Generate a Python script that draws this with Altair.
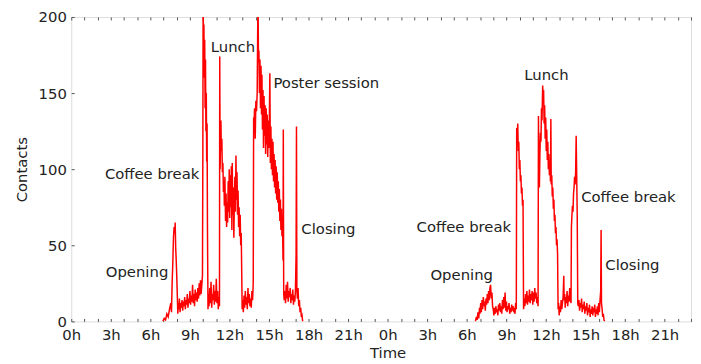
import altair as alt
import pandas as pd

# ---- Day 1 (hours since start of day 1) ----
t1 = [6.95, 7.05, 7.15, 7.25, 7.35, 7.45, 7.55, 7.6, 7.65, 7.7, 7.75, 7.8, 7.85, 7.88, 7.92, 7.96,
      8.0, 8.04, 8.08, 8.12, 8.16, 8.2, 8.25, 8.3, 8.35, 8.4, 8.45, 8.5, 8.55, 8.6, 8.65, 8.7, 8.75,
      8.8, 8.85, 8.9, 8.95, 9.0, 9.05, 9.1, 9.15, 9.2, 9.25, 9.3, 9.35, 9.4, 9.45, 9.5, 9.55, 9.6,
      9.65, 9.7, 9.75, 9.8, 9.85, 9.9, 9.95, 9.98, 10.0, 10.03, 10.06, 10.09, 10.12, 10.15, 10.18,
      10.21, 10.24, 10.27, 10.3, 10.33, 10.37, 10.4, 10.45, 10.5, 10.55, 10.6, 10.65, 10.7, 10.75,
      10.8, 10.85, 10.9, 10.95, 11.0, 11.05, 11.1, 11.15, 11.2, 11.24, 11.26, 11.29, 11.32, 11.35,
      11.38, 11.42, 11.46, 11.5, 11.54, 11.58, 11.61, 11.65, 11.7, 11.74, 11.78, 11.82, 11.86, 11.9,
      11.94, 11.98, 12.02, 12.06, 12.1, 12.14, 12.18, 12.21, 12.25, 12.29, 12.33, 12.37, 12.41,
      12.45, 12.49, 12.53, 12.57, 12.61, 12.65, 12.69, 12.73, 12.77, 12.81, 12.85, 12.89, 12.93,
      12.96, 13.0, 13.05, 13.1, 13.15, 13.2, 13.25, 13.3, 13.35, 13.4, 13.45, 13.5, 13.55, 13.6,
      13.65, 13.7, 13.75, 13.8, 13.83, 13.86, 13.9, 13.95, 14.0, 14.05, 14.1, 14.16, 14.2, 14.23,
      14.27, 14.31, 14.35, 14.39, 14.43, 14.46, 14.5, 14.54, 14.58, 14.62, 14.66, 14.7, 14.74,
      14.78, 14.82, 14.86, 14.9, 14.94, 14.98, 15.02, 15.06, 15.1, 15.14, 15.18, 15.22, 15.26,
      15.3, 15.34, 15.38, 15.42, 15.46, 15.5, 15.54, 15.58, 15.62, 15.66, 15.7, 15.74, 15.78,
      15.82, 15.86, 15.9, 15.94, 15.98, 16.02, 16.06, 16.08, 16.11, 16.15, 16.2, 16.25, 16.3,
      16.35, 16.4, 16.45, 16.5, 16.55, 16.6, 16.65, 16.7, 16.75, 16.8, 16.85, 16.9, 16.95, 17.0,
      17.05, 17.08, 17.11, 17.15, 17.2, 17.25, 17.3, 17.35, 17.4, 17.45, 17.5, 17.55]
v1 = [0, 2, 1, 5, 3, 8, 12, 6, 25, 38, 55, 62, 58, 65, 48, 40,
      30, 18, 5, 12, 8, 15, 6, 12, 9, 14, 7, 13, 10, 16, 8, 14, 11,
      18, 9, 15, 12, 20, 11, 17, 13, 24, 12, 18, 10, 21, 14, 19, 13, 22,
      15, 25, 17, 27, 18, 24, 30, 110, 215, 180, 195, 160, 185, 140, 172,
      125, 150, 105, 130, 60, 8, 18, 10, 22, 12, 26, 9, 18, 14,
      24, 11, 20, 13, 28, 12, 20, 8, 16, 10, 174, 100, 118, 132,
      112, 120, 98, 104, 85, 92, 76, 95, 66, 84, 62, 78, 65, 92,
      72, 100, 68, 96, 75, 102, 60, 104, 70, 88, 55, 80, 95,
      72, 109, 80, 98, 70, 86, 62, 75, 56, 70, 50, 58, 30,
      8, 14, 6, 17, 9, 20, 11, 16, 8, 22, 12, 18, 10, 15,
      9, 20, 14, 25, 134, 128, 140, 120, 145, 138, 150, 215, 170, 178,
      150, 172, 140, 168, 136, 162, 126, 152, 114, 148, 122, 142, 110,
      140, 116, 136, 108, 132, 114, 130, 163, 104, 128, 100, 120, 96,
      118, 92, 110, 88, 106, 84, 102, 80, 98, 78, 92, 72, 87,
      66, 80, 60, 74, 56, 64, 40, 126, 18, 14, 20, 12, 24,
      15, 26, 13, 20, 16, 22, 12, 18, 14, 21, 11, 17, 13, 20,
      44, 128, 20, 15, 22, 10, 14, 6, 9, 3, 4, 0]

# ---- Day 2 ----
t2 = [30.65, 30.72, 30.78, 30.84, 30.9, 30.96, 31.0, 31.05, 31.1, 31.15, 31.2, 31.25, 31.3, 31.35,
      31.4, 31.45, 31.5, 31.55, 31.6, 31.65, 31.7, 31.75, 31.8, 31.85, 31.9, 31.95, 32.0, 32.05,
      32.1, 32.15, 32.2, 32.25, 32.3, 32.35, 32.4, 32.45, 32.5, 32.55, 32.6, 32.65, 32.7, 32.75,
      32.8, 32.85, 32.9, 32.95, 33.0, 33.05, 33.1, 33.15, 33.2, 33.25, 33.3, 33.35, 33.4, 33.45,
      33.5, 33.55, 33.6, 33.65, 33.7, 33.75, 33.78, 33.82, 33.86, 33.9, 33.94, 33.98, 34.02, 34.06,
      34.1, 34.14, 34.18, 34.22, 34.26, 34.3, 34.35, 34.4, 34.45, 34.5, 34.55, 34.6, 34.65, 34.7,
      34.75, 34.8, 34.85, 34.9, 34.95, 35.0, 35.05, 35.1, 35.15, 35.2, 35.25, 35.3, 35.35, 35.4,
      35.43, 35.46, 35.5, 35.54, 35.58, 35.62, 35.66, 35.7, 35.75, 35.78, 35.82, 35.86, 35.9,
      35.94, 35.98, 36.02, 36.06, 36.1, 36.14, 36.18, 36.22, 36.26, 36.3, 36.34, 36.37, 36.4,
      36.44, 36.48, 36.52, 36.56, 36.6, 36.64, 36.68, 36.72, 36.76, 36.8, 36.84, 36.88, 36.92,
      36.96, 37.0, 37.05, 37.1, 37.15, 37.2, 37.25, 37.3, 37.35, 37.38, 37.42, 37.46, 37.5, 37.55,
      37.6, 37.65, 37.7, 37.75, 37.8, 37.85, 37.9, 37.93, 37.97, 38.01, 38.05, 38.09, 38.13,
      38.17, 38.21, 38.25, 38.29, 38.33, 38.37, 38.41, 38.45, 38.5, 38.55, 38.6, 38.65, 38.7,
      38.75, 38.8, 38.85, 38.9, 38.95, 39.0, 39.05, 39.1, 39.15, 39.2, 39.25, 39.3, 39.35, 39.4,
      39.45, 39.5, 39.55, 39.6, 39.65, 39.7, 39.75, 39.8, 39.85, 39.9, 39.95, 40.0, 40.05, 40.1,
      40.15, 40.18, 40.21, 40.26, 40.3, 40.35, 40.4, 40.45]
v2 = [0, 3, 1, 6, 2, 9, 5, 12, 6, 14, 8, 16, 10, 13,
      7, 15, 11, 18, 12, 20, 14, 22, 24, 15, 19, 10, 8, 4,
      9, 5, 10, 6, 8, 4, 11, 7, 12, 6, 10, 5, 14, 8,
      16, 9, 19, 7, 13, 6, 10, 8, 12, 5, 9, 6, 11, 7,
      10, 6, 9, 5, 12, 8, 127, 120, 130, 112, 118, 100, 106, 92,
      96, 84, 88, 76, 80, 8, 15, 10, 18, 12, 20, 11, 17, 13,
      21, 12, 18, 14, 20, 11, 19, 13, 22, 15, 19, 12, 16, 10,
      135, 105, 88, 110, 124, 118, 140, 132, 155, 148, 152, 130, 142,
      120, 134, 112, 126, 106, 118, 100, 110, 96, 104, 92, 133, 90,
      96, 82, 88, 74, 80, 66, 70, 58, 62, 50, 54, 44, 8,
      12, 4, 10, 6, 14, 8, 12, 16, 30, 14, 18, 9, 16, 12,
      20, 10, 17, 13, 22, 15, 12, 62, 70, 76, 72, 84, 88,
      95, 90, 98, 122, 96, 70, 12, 10, 14, 7, 12, 9, 15,
      6, 11, 8, 13, 5, 10, 7, 12, 4, 9, 6, 11, 3, 8,
      5, 10, 4, 9, 6, 11, 3, 8, 5, 10, 4, 12, 6, 14,
      20, 60, 12, 8, 3, 5, 1, 0]

# ---- Annotations ----
ann_text = ["Opening", "Coffee break", "Lunch", "Poster session", "Closing",
            "Opening", "Coffee break", "Lunch", "Coffee break", "Closing"]
ann_x = [2.62, 2.55, 10.58, 15.33, 17.45, 27.24, 26.19, 34.36, 38.67, 40.5]
ann_y = [32.6, 97, 180.5, 156.7, 60.5, 30.7, 62, 162, 82, 36.7]

hour_ticks = list(range(0, 48))
y_ticks = [0, 50, 100, 150, 200]

df = pd.concat([
    pd.DataFrame({"t": t1, "v": v1, "day": 1}),
    pd.DataFrame({"t": t2, "v": v2, "day": 2}),
])
ann = pd.DataFrame({"x": ann_x, "y": ann_y, "label": ann_text})

FONT = "DejaVu Sans"
TXT = "#222222"
xscale = alt.Scale(domain=[0, 47], nice=False, zero=False)
yscale = alt.Scale(domain=[0, 200], nice=False)

line = alt.Chart(df).mark_line(color="#ff0000", strokeWidth=1.5, clip=True).encode(
    x=alt.X("t:Q", scale=xscale, title="Time",
            axis=alt.Axis(orient="bottom", values=hour_ticks, domain=False,
                          tickSize={"expr": "-3"}, tickColor="#555555", tickWidth=1,
                          labelExpr="datum.value % 3 == 0 ? (datum.value % 24) + 'h' : ''",
                          labelFont=FONT, labelFontSize=15, labelColor=TXT, labelPadding=9,
                          labelFlush=False, labelOverlap=False, grid=False,
                          titleFont=FONT, titleFontSize=15, titleFontWeight="normal",
                          titleColor=TXT, titleX=320, titleY=32, titleBaseline="middle")),
    y=alt.Y("v:Q", scale=yscale, title="Contacts",
            axis=alt.Axis(orient="left", values=y_ticks, domain=False,
                          tickSize={"expr": "-3"}, tickColor="#555555",
                          labelFont=FONT, labelFontSize=15, labelColor=TXT, labelPadding=8,
                          labelFlush=False, grid=False,
                          titleFont=FONT, titleFontSize=15, titleFontWeight="normal",
                          titleColor=TXT, titleX=-50, titleY=154, titleBaseline="middle",
                          titleAlign="center", titleAngle=-90)),
    detail="day:N",
)

text = alt.Chart(ann).mark_text(font=FONT, fontSize=15, color=TXT, align="left",
                                baseline="middle").encode(
    x=alt.X("x:Q", scale=xscale,
            axis=alt.Axis(orient="top", values=hour_ticks, domain=False, labels=False,
                          title=None, tickSize={"expr": "-3"}, tickColor="#555555",
                          grid=False)),
    y=alt.Y("y:Q", scale=yscale, axis=None),
    text="label:N",
)

chart = alt.layer(line, text).resolve_axis(x="independent", y="independent").properties(
    width=627, height=308,
    padding={"left": 64, "top": 7, "right": 2, "bottom": 40},
    autosize=alt.AutoSizeParams(type="none"),
).configure_view(stroke="#444444", strokeWidth=1).configure(background="white")

chart.save("out.html", embed_options={"renderer": "svg", "actions": False})
